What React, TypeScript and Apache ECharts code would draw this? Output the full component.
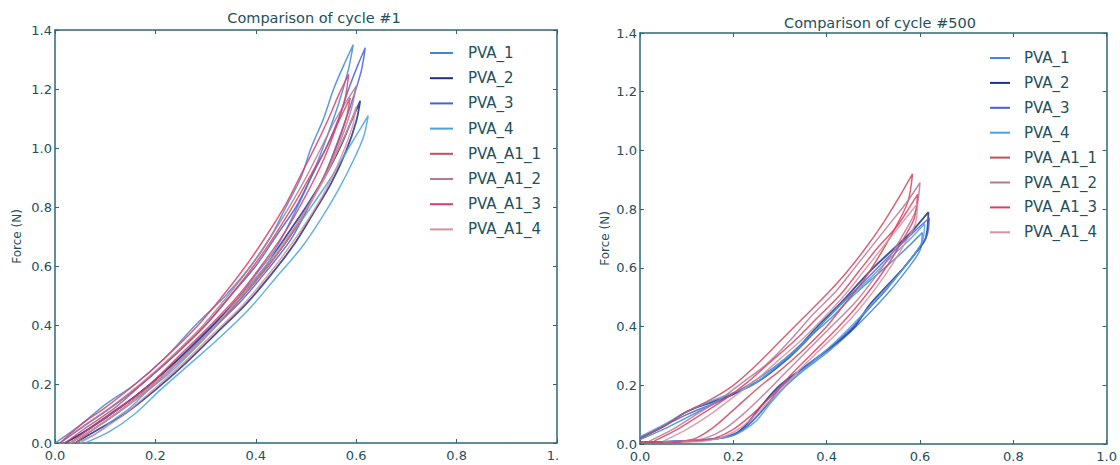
import React, { useEffect, useRef } from "react";
import * as echarts from "echarts";

const seriesNames = ["PVA_1", "PVA_2", "PVA_3", "PVA_4", "PVA_A1_1", "PVA_A1_2", "PVA_A1_3", "PVA_A1_4"];
const seriesColors = ["#3f86d8", "#1e3088", "#4a5fd8", "#4aa3dc", "#d0485c", "#b87890", "#dd3f68", "#d8909a"];
const titles = ["Comparison of cycle #1", "Comparison of cycle #500"];
const yAxisName = "Force (N)";

// Cycle #1 (strain, force) loops: loading then unloading
const c1_PVA_1 = [[0,0],[0.05,0.06],[0.1,0.13],[0.16,0.2],[0.22,0.29],[0.28,0.4],[0.34,0.5],[0.39,0.6],[0.43,0.7],[0.46,0.8],[0.49,0.9],[0.51,1.0],[0.535,1.1],[0.555,1.2],[0.575,1.28],[0.594,1.35],
  [0.585,1.27],[0.565,1.15],[0.54,1.03],[0.515,0.92],[0.48,0.79],[0.44,0.66],[0.4,0.57],[0.35,0.46],[0.29,0.36],[0.23,0.26],[0.17,0.17],[0.11,0.1],[0.06,0.04],[0.02,0]];
const c1_PVA_2 = [[0.02,0],[0.07,0.05],[0.13,0.12],[0.19,0.2],[0.25,0.29],[0.31,0.39],[0.37,0.5],[0.42,0.6],[0.46,0.7],[0.5,0.8],[0.54,0.91],[0.57,1.01],[0.59,1.09],[0.608,1.16],
  [0.6,1.09],[0.58,0.99],[0.55,0.88],[0.515,0.78],[0.475,0.67],[0.43,0.57],[0.38,0.47],[0.32,0.37],[0.26,0.27],[0.2,0.18],[0.14,0.1],[0.08,0.04],[0.04,0]];
const c1_PVA_3 = [[0.01,0],[0.06,0.06],[0.12,0.13],[0.18,0.21],[0.24,0.3],[0.3,0.4],[0.35,0.5],[0.4,0.6],[0.44,0.7],[0.48,0.8],[0.51,0.9],[0.54,1.0],[0.565,1.1],[0.585,1.2],[0.603,1.28],[0.618,1.34],
  [0.61,1.26],[0.59,1.15],[0.565,1.03],[0.54,0.92],[0.505,0.8],[0.47,0.69],[0.42,0.58],[0.37,0.48],[0.31,0.38],[0.25,0.28],[0.19,0.19],[0.13,0.11],[0.07,0.04],[0.03,0]];
const c1_PVA_4 = [[0.04,0],[0.08,0.03],[0.11,0.07],[0.15,0.12],[0.18,0.17],[0.23,0.24],[0.29,0.34],[0.35,0.45],[0.41,0.57],[0.46,0.68],[0.51,0.8],[0.55,0.9],[0.585,1.0],[0.61,1.07],[0.624,1.11],
  [0.615,1.04],[0.595,0.96],[0.565,0.86],[0.53,0.76],[0.49,0.66],[0.44,0.56],[0.39,0.46],[0.33,0.36],[0.27,0.27],[0.21,0.18],[0.16,0.1],[0.11,0.04],[0.06,0]];
const c1_PVA_A1_1 = [[0.02,0],[0.06,0.05],[0.12,0.12],[0.18,0.21],[0.24,0.3],[0.3,0.4],[0.35,0.5],[0.4,0.61],[0.44,0.71],[0.48,0.82],[0.51,0.91],[0.54,1.0],[0.565,1.09],[0.588,1.17],
  [0.58,1.1],[0.56,1.0],[0.535,0.9],[0.5,0.79],[0.46,0.68],[0.415,0.58],[0.365,0.48],[0.31,0.38],[0.25,0.28],[0.19,0.19],[0.13,0.11],[0.08,0.05],[0.04,0]];
const c1_PVA_A1_2 = [[0.01,0],[0.05,0.05],[0.11,0.12],[0.17,0.2],[0.23,0.29],[0.29,0.39],[0.34,0.49],[0.39,0.6],[0.43,0.7],[0.47,0.81],[0.5,0.9],[0.53,1.0],[0.56,1.1],[0.6,1.21],
  [0.59,1.13],[0.57,1.03],[0.545,0.93],[0.51,0.82],[0.47,0.71],[0.425,0.6],[0.375,0.5],[0.32,0.4],[0.26,0.3],[0.2,0.2],[0.14,0.12],[0.08,0.05],[0.03,0]];
const c1_PVA_A1_3 = [[0.01,0],[0.05,0.06],[0.1,0.12],[0.16,0.2],[0.22,0.29],[0.28,0.39],[0.33,0.49],[0.38,0.6],[0.42,0.7],[0.46,0.81],[0.49,0.91],[0.52,1.01],[0.545,1.1],[0.565,1.18],[0.585,1.25],
  [0.578,1.17],[0.56,1.07],[0.535,0.96],[0.5,0.84],[0.46,0.72],[0.415,0.61],[0.365,0.5],[0.31,0.4],[0.25,0.3],[0.19,0.2],[0.13,0.12],[0.07,0.05],[0.03,0]];
const c1_PVA_A1_4 = [[0.03,0],[0.07,0.04],[0.13,0.11],[0.19,0.19],[0.25,0.28],[0.31,0.38],[0.36,0.48],[0.41,0.58],[0.46,0.69],[0.5,0.79],[0.535,0.89],[0.56,0.98],[0.585,1.07],[0.6,1.14],
  [0.592,1.07],[0.57,0.97],[0.54,0.86],[0.505,0.76],[0.465,0.66],[0.42,0.56],[0.37,0.46],[0.315,0.37],[0.255,0.27],[0.195,0.18],[0.14,0.1],[0.09,0.04],[0.05,0]];

// Cycle #500 loops
const c500_PVA_1 = [[0,0.015],[0.05,0.05],[0.1,0.09],[0.15,0.13],[0.2,0.17],[0.26,0.23],[0.31,0.29],[0.36,0.36],[0.41,0.43],[0.46,0.51],[0.51,0.58],[0.56,0.65],[0.605,0.72],
  [0.6,0.66],[0.575,0.6],[0.54,0.53],[0.5,0.46],[0.45,0.38],[0.4,0.31],[0.35,0.25],[0.3,0.18],[0.26,0.11],[0.23,0.06],[0.2,0.03],[0.15,0.015],[0.08,0.008],[0.02,0.005]];
const c500_PVA_2 = [[0,0.02],[0.05,0.06],[0.1,0.11],[0.15,0.14],[0.2,0.17],[0.25,0.21],[0.3,0.27],[0.34,0.33],[0.38,0.4],[0.43,0.48],[0.47,0.55],[0.5,0.6],[0.54,0.66],[0.58,0.72],[0.618,0.79],
  [0.612,0.7],[0.59,0.65],[0.565,0.6],[0.53,0.54],[0.49,0.47],[0.46,0.4],[0.41,0.33],[0.36,0.27],[0.3,0.2],[0.26,0.13],[0.23,0.07],[0.205,0.035],[0.17,0.02],[0.12,0.012],[0.05,0.008],[0,0.006]];
const c500_PVA_3 = [[0,0.02],[0.05,0.06],[0.1,0.1],[0.16,0.14],[0.21,0.18],[0.26,0.22],[0.31,0.28],[0.35,0.34],[0.39,0.41],[0.44,0.49],[0.49,0.57],[0.54,0.65],[0.585,0.72],[0.62,0.77],
  [0.615,0.71],[0.595,0.66],[0.565,0.6],[0.53,0.53],[0.49,0.46],[0.45,0.39],[0.4,0.32],[0.35,0.26],[0.3,0.19],[0.265,0.12],[0.235,0.07],[0.21,0.04],[0.17,0.02],[0.1,0.01],[0.03,0.006]];
const c500_PVA_4 = [[0,0.025],[0.05,0.065],[0.1,0.11],[0.15,0.145],[0.2,0.175],[0.24,0.2],[0.29,0.26],[0.34,0.33],[0.39,0.41],[0.44,0.49],[0.49,0.56],[0.54,0.64],[0.58,0.7],[0.61,0.75],
  [0.605,0.69],[0.58,0.63],[0.55,0.57],[0.51,0.5],[0.47,0.43],[0.42,0.35],[0.37,0.28],[0.32,0.21],[0.28,0.14],[0.25,0.08],[0.22,0.045],[0.19,0.025],[0.13,0.013],[0.06,0.008],[0,0.006]];
const c500_PVA_A1_1 = [[0,0.02],[0.05,0.06],[0.1,0.11],[0.15,0.15],[0.2,0.2],[0.25,0.27],[0.3,0.35],[0.35,0.43],[0.4,0.51],[0.44,0.58],[0.48,0.66],[0.52,0.75],[0.555,0.84],[0.584,0.92],
  [0.575,0.83],[0.555,0.76],[0.52,0.66],[0.48,0.56],[0.44,0.48],[0.4,0.4],[0.35,0.32],[0.3,0.25],[0.26,0.2],[0.21,0.13],[0.16,0.06],[0.12,0.02],[0.08,0.008],[0,0.005]];
const c500_PVA_A1_2 = [[0.02,0.01],[0.07,0.05],[0.12,0.1],[0.17,0.15],[0.22,0.21],[0.27,0.27],[0.32,0.35],[0.37,0.44],[0.42,0.52],[0.46,0.6],[0.5,0.68],[0.54,0.76],[0.57,0.82],[0.6,0.89],
  [0.592,0.8],[0.57,0.73],[0.54,0.65],[0.5,0.56],[0.46,0.48],[0.41,0.4],[0.36,0.32],[0.31,0.24],[0.26,0.16],[0.22,0.1],[0.18,0.05],[0.14,0.02],[0.1,0.01],[0.05,0.006]];
const c500_PVA_A1_3 = [[0.03,0.01],[0.08,0.05],[0.13,0.1],[0.18,0.15],[0.23,0.21],[0.28,0.28],[0.33,0.35],[0.38,0.43],[0.43,0.51],[0.47,0.59],[0.51,0.67],[0.55,0.74],[0.575,0.8],[0.595,0.85],
  [0.588,0.77],[0.565,0.7],[0.535,0.62],[0.5,0.54],[0.46,0.46],[0.42,0.39],[0.37,0.31],[0.32,0.23],[0.28,0.16],[0.24,0.1],[0.2,0.05],[0.16,0.02],[0.12,0.01],[0.07,0.006]];
const c500_PVA_A1_4 = [[0.05,0.01],[0.1,0.05],[0.15,0.1],[0.2,0.16],[0.25,0.22],[0.3,0.29],[0.35,0.36],[0.4,0.44],[0.44,0.51],[0.48,0.59],[0.52,0.67],[0.555,0.74],[0.575,0.78],[0.595,0.82],
  [0.59,0.75],[0.57,0.69],[0.54,0.61],[0.505,0.53],[0.47,0.46],[0.43,0.39],[0.385,0.32],[0.34,0.25],[0.3,0.18],[0.26,0.12],[0.22,0.06],[0.18,0.025],[0.14,0.01],[0.09,0.006]];

const cycle1Data = [c1_PVA_1, c1_PVA_2, c1_PVA_3, c1_PVA_4, c1_PVA_A1_1, c1_PVA_A1_2, c1_PVA_A1_3, c1_PVA_A1_4];
const cycle500Data = [c500_PVA_1, c500_PVA_2, c500_PVA_3, c500_PVA_4, c500_PVA_A1_1, c500_PVA_A1_2, c500_PVA_A1_3, c500_PVA_A1_4];

const AXIS = "#2d6774";
const TEXT = "#24505c";
const FONT = "DejaVu Sans";

export default function App() {
  const ref = useRef<HTMLDivElement>(null);
  useEffect(() => {
    if (!ref.current) return;
    const chart = echarts.init(ref.current, null, { renderer: "svg" });
    const grids = [
      { left: 55, top: 30, width: 502, height: 413 },
      { left: 640, top: 33, width: 467, height: 411 },
    ];
    const xAxes: any[] = [];
    const yAxes: any[] = [];
    const fmt = (v: number) => v.toFixed(1);
    grids.forEach((g, i) => {
      const line = { show: true, onZero: false, lineStyle: { color: AXIS, width: 1.5 } };
      xAxes.push({
        type: "value", gridIndex: i, min: 0, max: 1, interval: 0.2, position: "bottom",
        axisLine: line, axisTick: { show: true, inside: true, length: 4, lineStyle: { color: AXIS } },
        axisLabel: { color: TEXT, fontFamily: FONT, fontSize: 13, margin: 6, formatter: fmt },
        splitLine: { show: false },
      });
      xAxes.push({
        type: "value", gridIndex: i, min: 0, max: 1, interval: 0.2, position: "top",
        axisLine: line, axisTick: { show: true, inside: true, length: 4, lineStyle: { color: AXIS } },
        axisLabel: { show: false }, splitLine: { show: false },
      });
      yAxes.push({
        type: "value", gridIndex: i, min: 0, max: 1.4, interval: 0.2, position: "left",
        name: yAxisName, nameLocation: "middle", nameGap: i === 0 ? 32 : 29,
        nameTextStyle: { color: TEXT, fontFamily: FONT, fontSize: 12 },
        axisLine: line, axisTick: { show: true, inside: true, length: 4, lineStyle: { color: AXIS } },
        axisLabel: { color: TEXT, fontFamily: FONT, fontSize: 13, margin: 3, formatter: fmt },
        splitLine: { show: false },
      });
      yAxes.push({
        type: "value", gridIndex: i, min: 0, max: 1.4, interval: 0.2, position: "right",
        axisLine: line, axisTick: { show: true, inside: true, length: 4, lineStyle: { color: AXIS } },
        axisLabel: { show: false }, splitLine: { show: false },
      });
    });
    const series: any[] = [];
    [cycle1Data, cycle500Data].forEach((panel, p) => {
      panel.forEach((data, k) => {
        series.push({
          type: "line", name: seriesNames[k], xAxisIndex: p * 2, yAxisIndex: p * 2,
          data, showSymbol: false, symbol: "none", smooth: 0.3,
          lineStyle: { color: seriesColors[k], width: k === 1 ? 1.8 : 1.5, opacity: 0.85 },
          itemStyle: { color: seriesColors[k] },
        });
      });
    });
    const legendBase = {
      orient: "vertical", icon: "rect", itemHeight: 2,
      data: seriesNames, selectedMode: false,
    };
    chart.setOption({
      animation: false,
      backgroundColor: "#ffffff",
      title: [
        { text: titles[0], left: 309, top: 5, textAlign: "center", textStyle: { color: TEXT, fontFamily: FONT, fontSize: 14.5, fontWeight: "normal" } },
        { text: titles[1], left: 875, top: 10, textAlign: "center", textStyle: { color: TEXT, fontFamily: FONT, fontSize: 14.5, fontWeight: "normal" } },
      ],
      grid: grids,
      xAxis: xAxes,
      yAxis: yAxes,
      legend: [
        { ...legendBase, left: 425, top: 40, itemWidth: 23, itemGap: 9.2,
          textStyle: { color: TEXT, fontFamily: FONT, fontSize: 15, lineHeight: 16, padding: [0, 0, 0, 10] } },
        { ...legendBase, left: 985, top: 45, itemWidth: 20, itemGap: 8.9,
          textStyle: { color: TEXT, fontFamily: FONT, fontSize: 15, lineHeight: 16, padding: [0, 0, 0, 9] } },
      ],
      graphic: [
        { type: "rect", shape: { x: 559, y: 445, width: 40, height: 20 }, style: { fill: "#ffffff" }, z: 100 },
      ],
      series,
    });
    return () => chart.dispose();
  }, []);
  return <div ref={ref} style={{ position: "fixed", left: 0, top: 0, width: 1120, height: 465 }} />;
}
